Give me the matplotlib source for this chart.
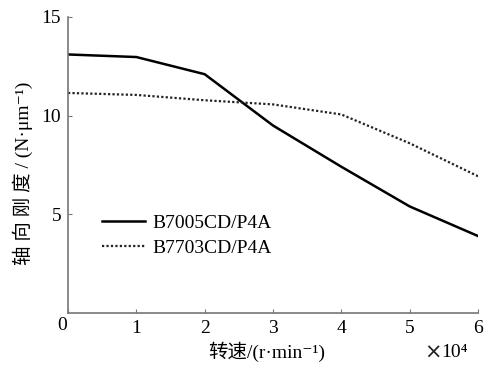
import matplotlib
matplotlib.use("Agg")
import matplotlib.pyplot as plt

# Rotational speed (x 10^4 r/min) and axial stiffness (N/um)
speed = [0, 1, 2, 3, 4, 5, 6]
stiff_b7005 = [13.1, 12.97, 12.1, 9.5, 7.41, 5.4, 3.9]
stiff_b7703 = [11.15, 11.05, 10.78, 10.57, 10.06, 8.6, 6.93]

labels = ["B7005CD/P4A", "B7703CD/P4A"]
xticks = [0, 1, 2, 3, 4, 5, 6]
yticks = [5, 10, 15]

SERIF = ["Liberation Serif", "Noto Sans CJK SC", "DejaVu Serif"]
plt.rcParams["font.family"] = SERIF

fig = plt.figure(figsize=(5.0, 3.65), dpi=100)
ax = fig.add_axes([0.136, 0.1425, 0.82, 0.811])

ax.plot(speed, stiff_b7005, color="black", lw=1.8, solid_joinstyle="round",
        label=labels[0])
ax.plot(speed, stiff_b7703, color="#222222", lw=1.6, linestyle=(0, (1, 1)),
        label=labels[1])

ax.set_xlim(0, 6)
ax.set_ylim(0, 15)
ax.set_xticks(xticks)
ax.set_yticks(yticks)
ax.tick_params(direction="in", length=3, width=0.8, color="#777777",
               labelsize=14, pad=5)
for side in ("top", "right"):
    ax.spines[side].set_visible(False)
for side in ("left", "bottom"):
    ax.spines[side].set_color("#777777")
    ax.spines[side].set_linewidth(1.2)

# the origin label sits under the corner
ax.set_xticklabels(["", "1", "2", "3", "4", "5", "6"])
ax.set_yticklabels(["5", "10", "15"])
fig.text(0.124, 0.107, "0", fontsize=14, ha="center", va="center")

fig.text(0.534, 0.035, "转速/(r·min⁻¹)", fontsize=14, ha="center", va="center",
         family=SERIF)
# multiplier for the x axis
fig.text(0.866, 0.035, "×", fontsize=15, ha="center", va="center",
         family=["DejaVu Sans"], color="#222222")
fig.text(0.882, 0.035, "10⁴", fontsize=14, ha="left", va="center",
         family=SERIF)
fig.text(0.046, 0.525, "轴 向 刚 度 / (N·μm⁻¹)",
         fontsize=14, rotation=90, ha="center", va="center", family=SERIF)

ax.legend(loc="upper left", bbox_to_anchor=(0.065, 0.36), frameon=False,
          fontsize=14, handlelength=2.2, handletextpad=0.35,
          labelspacing=0.4, borderaxespad=0)

fig.savefig("out.png", dpi=100)
